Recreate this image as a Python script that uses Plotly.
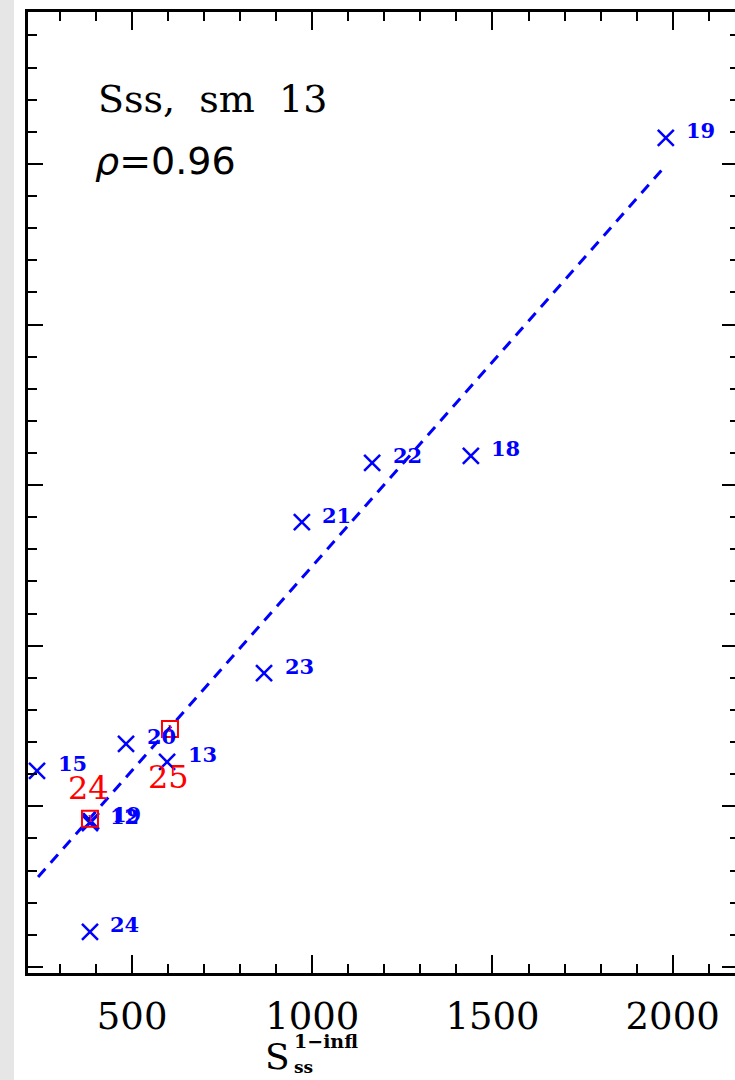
import plotly.graph_objects as go

# ---- data ----
blue_labels = ["19", "22", "18", "21", "23", "20", "13", "15", "12", "19", "24"]
blue_x = [1981, 1166, 1440, 971, 866, 483, 597, 236, 383, 386, 383]
blue_y = [2581, 1569, 1591, 1385, 915, 694, 638, 610, 448, 454, 109]

red_labels = ["25", "24"]
red_x = [605, 383]
red_y = [741, 461]
red_label_shift = [-48, 31]

fit_x = [239, 1970]
fit_y = [280, 2481]

x_range = [211, 2173]
y_range = [-19, 2973]
x_ticks = [500, 1000, 1500, 2000]
x_ticklabels = ["500", "1000", "1500", "2000"]

title_text = "Sss,  sm  13"
rho_text = "<i>ρ</i>=0.96"

# ---- figure geometry ----
W, H = 735, 1080
ML, MR, MT, MB = 28, 0, 12, 107
PW, PH = W - ML - MR, H - MT - MB


def px(xp):
    return (xp - ML) / PW


def py(yp):
    return (H - MB - yp) / PH


BLUE = "#0000FF"
RED = "#FF0000"

fig = go.Figure()

fig.add_trace(go.Scatter(
    x=fit_x, y=fit_y, mode="lines",
    line=dict(color=BLUE, width=3, dash="11px,8px"),
    showlegend=False, hoverinfo="skip"))

fig.add_trace(go.Scatter(
    x=blue_x, y=blue_y, mode="markers",
    marker=dict(symbol="x-thin-open", size=16, color=BLUE,
                line=dict(color=BLUE, width=2.5)),
    cliponaxis=False, showlegend=False))

fig.add_trace(go.Scatter(
    x=red_x, y=red_y, mode="markers+text",
    text=["ı"] * len(red_x), textposition="middle center",
    textfont=dict(family="DejaVu Serif", size=13, color=RED),
    marker=dict(symbol="square-open", size=16, color=RED,
                line=dict(color=RED, width=2)),
    cliponaxis=False, showlegend=False))

# invisible trace for the right-hand tick axis
fig.add_trace(go.Scatter(x=[None], y=[None], yaxis="y2", showlegend=False,
                         hoverinfo="skip"))

annotations = []
for lab, xv, yv in zip(blue_labels, blue_x, blue_y):
    annotations.append(dict(
        x=xv, y=yv, xref="x", yref="y", text=lab, showarrow=False,
        xshift=35, yshift=7,
        font=dict(family="DejaVu Serif", size=21, color=BLUE, weight="bold")))
for lab, xv, yv, sh in zip(red_labels, red_x, red_y, red_label_shift):
    annotations.append(dict(
        x=xv, y=yv, xref="x", yref="y", text=lab, showarrow=False,
        xshift=-1, yshift=sh,
        font=dict(family="DejaVu Serif", size=32, color=RED)))

annotations += [
    dict(x=px(96), y=py(99), xref="paper", yref="paper", text=title_text,
         showarrow=False, xanchor="left", yanchor="middle",
         font=dict(family="DejaVu Serif", size=38, color="black")),
    dict(x=px(93), y=py(161), xref="paper", yref="paper", text=rho_text,
         showarrow=False, xanchor="left", yanchor="middle",
         font=dict(family="DejaVu Sans", size=38, color="black")),
    dict(x=px(292), y=py(1056), xref="paper", yref="paper", text="S",
         showarrow=False, xanchor="right", yanchor="middle",
         font=dict(family="DejaVu Serif", size=36, color="black")),
    dict(x=px(292), y=py(1041), xref="paper", yref="paper", text="1−infl",
         showarrow=False, xanchor="left", yanchor="middle",
         font=dict(family="DejaVu Serif", size=19, color="black", weight="bold")),
    dict(x=px(292), y=py(1067), xref="paper", yref="paper", text="ss",
         showarrow=False, xanchor="left", yanchor="middle",
         font=dict(family="DejaVu Serif", size=17, color="black", weight="bold")),
]

shapes = [
    dict(type="rect", xref="paper", yref="paper",
         x0=px(0), x1=px(14), y0=py(H), y1=py(0),
         fillcolor="#e6e6e6", line=dict(width=0), layer="below"),
]

fig.update_layout(
    width=W, height=H,
    margin=dict(l=ML, r=MR, t=MT, b=MB, pad=0),
    paper_bgcolor="white", plot_bgcolor="white",
    showlegend=False,
    annotations=annotations,
    shapes=shapes,
    xaxis=dict(
        range=x_range, showgrid=False, zeroline=False,
        showline=True, linecolor="black", linewidth=3, mirror="ticks",
        ticks="inside", ticklen=18, tickwidth=2, tickcolor="black",
        tickvals=x_ticks, ticktext=x_ticklabels,
        ticklabelstandoff=9,
        tickfont=dict(family="DejaVu Serif", size=37, color="black"),
        minor=dict(dtick=100, tick0=0, ticks="inside", ticklen=9,
                   tickwidth=2, tickcolor="black", showgrid=False),
    ),
    yaxis=dict(
        range=y_range, showgrid=False, zeroline=False,
        showline=True, linecolor="black", linewidth=3, mirror=False,
        ticks="inside", ticklen=15, tickwidth=2, tickcolor="black",
        dtick=500, tick0=0, showticklabels=False,
        minor=dict(dtick=100, tick0=0, ticks="inside", ticklen=9,
                   tickwidth=2, tickcolor="black", showgrid=False),
    ),
    yaxis2=dict(
        range=y_range, overlaying="y", side="right", showgrid=False,
        zeroline=False, showline=False,
        ticks="inside", ticklen=13, tickwidth=2, tickcolor="black",
        dtick=500, tick0=0, showticklabels=False,
        minor=dict(dtick=100, tick0=0, ticks="inside", ticklen=5,
                   tickwidth=2, tickcolor="black", showgrid=False),
    ),
)

fig.write_html("out.html")
